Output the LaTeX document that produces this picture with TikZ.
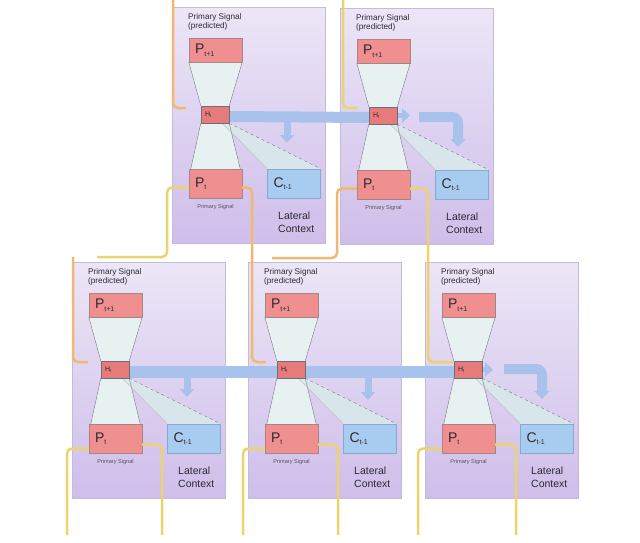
\documentclass[tikz,border=0pt]{standalone}
\usepackage{fontspec}
\setmainfont{Liberation Sans}
\usetikzlibrary{arrows.meta}
\pgfdeclarelayer{bg}
\pgfdeclarelayer{mid}
\pgfsetlayers{bg,mid,main}
\definecolor{panA}{HTML}{ECE6F7}
\definecolor{panB}{HTML}{CFBEEA}
\definecolor{panedge}{HTML}{C4BCD6}
\definecolor{pred}{HTML}{EF8F8F}
\definecolor{predline}{HTML}{A98484}
\definecolor{hred}{HTML}{E77B7B}
\definecolor{cblue}{HTML}{A8CCEF}
\definecolor{cline}{HTML}{86A9CC}
\definecolor{bandc}{HTML}{A8C2EC}
\definecolor{orA}{HTML}{F2B872}
\definecolor{yeA}{HTML}{ECD36E}
\definecolor{glass}{HTML}{E8F1F2}
\definecolor{beamc}{HTML}{D8EBEC}
\definecolor{txt}{HTML}{2B2B33}
\definecolor{edgec}{HTML}{6E6E78}

\newcommand\mysub[1]{\raisebox{-2.5pt}{\fontsize{7}{8}\selectfont #1}}
\newcommand\mytinysub[1]{\raisebox{-1.5pt}{\fontsize{4.5}{5}\selectfont #1}}

\tikzset{
 panelbox/.style={draw=panedge, line width=0.5pt, top color=panA, bottom color=panB,
   minimum width=153pt, minimum height=236pt, inner sep=0pt},
 pboxst/.style={fill=pred, draw=predline, line width=0.4pt, minimum width=53pt, inner sep=0pt},
 hboxst/.style={fill=hred, draw=edgec, line width=0.4pt, minimum width=28pt, minimum height=17pt, inner sep=0pt},
 cboxst/.style={fill=cblue, draw=cline, line width=0.4pt, minimum width=53pt, minimum height=29pt, inner sep=0pt},
 glassedge/.style={draw=edgec, line width=0.35pt},
 toptext/.style={anchor=north west, align=left, inner sep=0pt, text=txt, font=\fontsize{8.2}{9.2}\selectfont},
 plabel/.style={anchor=west, inner sep=0pt, text=txt, font=\fontsize{14}{16}\selectfont},
 hlabel/.style={anchor=west, inner sep=0pt, text=txt, font=\fontsize{7}{8}\selectfont},
 smalltext/.style={inner sep=0pt, text=txt!80, font=\fontsize{5.6}{6}\selectfont},
 lattext/.style={anchor=west, align=left, inner sep=0pt, text=txt, font=\fontsize{10.5}{12.5}\selectfont},
 band/.style={draw=bandc, line width=11pt},
 stub/.style={draw=bandc, line width=7pt, -{Triangle[width=14pt,length=8pt]}},
 bent/.style={draw=bandc, line width=10pt, rounded corners=6pt, -{Triangle[width=15pt,length=8pt]}},
 orline/.style={draw=orA, line width=2.5pt, rounded corners=5pt},
 yeline/.style={draw=yeA, line width=2.5pt, rounded corners=5pt},
}

\newcommand\mypanel[3]{%
\begin{scope}[shift={(#2,#3)}]
 \begin{pgfonlayer}{bg}
  \node[panelbox] (#1) at (76.5,118) {};
 \end{pgfonlayer}
 \node[pboxst, minimum height=24pt] (#1P1) at (43.5,43) {};
 \node[hboxst] (#1H) at (43,107.5) {};
 \node[pboxst, minimum height=29pt] (#1P0) at (43.5,176.5) {};
 \node[cboxst] (#1C) at (122,176.5) {};
 \begin{pgfonlayer}{bg}
  \fill[glass] (#1P1.south west) -- (#1P1.south east) -- (#1H.north east) -- (#1H.north west) -- cycle;
  \fill[glass] (#1H.south west) -- (#1H.south east) -- ([xshift=-2pt]#1P0.north east) -- ([xshift=2pt]#1P0.north west) -- cycle;
  \fill[beamc, opacity=.85] (#1H.south east) -- (#1C.north east) -- (#1C.north west) -- ([xshift=-7pt]#1H.south east) -- cycle;
  \draw[glassedge] (#1P1.south west) -- (#1H.north west)
                   (#1P1.south east) -- (#1H.north east)
                   (#1H.south west) -- ([xshift=2pt]#1P0.north west)
                   (#1H.south east) -- ([xshift=-2pt]#1P0.north east);
  \draw[glassedge, dashed] (#1H.south east) -- (#1C.north east);
  \draw[glassedge, draw=edgec!50] ([xshift=-7pt]#1H.south east) -- (#1C.north west);
 \end{pgfonlayer}
 \node[toptext] (#1tt) at (16,6) {Primary Signal\\(predicted)};
 \node[plabel] (#1P1t) at ([xshift=6pt]#1P1.west) {P\mysub{t+1}};
 \node[hlabel] (#1Ht) at ([xshift=4pt]#1H.west) {H\mytinysub{t}};
 \node[plabel] (#1P0t) at ([xshift=6pt]#1P0.west) {P\mysub{t}};
 \node[plabel] (#1Ct) at ([xshift=6pt]#1C.west) {C\mysub{t-1}};
 \node[smalltext] (#1ps) at (43.5,200) {Primary Signal};
 \node[lattext] (#1lc) at (106,215) {Lateral\\Context};
\end{scope}}

\begin{document}
\begin{tikzpicture}[x=1pt,y=-1pt]
\begin{pgfonlayer}{bg}
 \fill[white] (0,0) rectangle (640,542);
\end{pgfonlayer}
\path[use as bounding box] (0,0) rectangle (640,542);

\mypanel{TL}{172}{7}
\mypanel{TR}{340}{8}
\mypanel{BL}{72}{262}
\mypanel{BM}{248}{262}
\mypanel{BR}{425}{262}

% blue bands
\coordinate (s1a) at (287,117);
\coordinate (s1b) at (287,143);
\coordinate (t2a) at (410,115.5);
\coordinate (t2b) at (419,117);
\coordinate (t2c) at (458,117);
\coordinate (t2d) at (458,147);
\coordinate (s2a) at (187,372);
\coordinate (s2b) at (187,397);
\coordinate (s3a) at (368,372);
\coordinate (s3b) at (368,400);
\coordinate (t3a) at (493,369.5);
\coordinate (t3b) at (504,369);
\coordinate (t3c) at (542,369);
\coordinate (t3d) at (542,399);
\begin{pgfonlayer}{mid}
 \draw[band] ([yshift=-2pt]TLH.east) -- ([yshift=-2pt]TRH.west);
 \draw[stub] (s1a) -- (s1b);
 \draw[stub, line width=5pt] (TRH.east) -- (t2a);
 \draw[bent] (t2b) -- (t2c) -- (t2d);
 \draw[band, line width=12pt] ([yshift=-2pt]BLH.east) -- ([yshift=-2pt]BRH.west);
 \draw[stub] (s2a) -- (s2b);
 \draw[stub] (s3a) -- (s3b);
 \draw[stub, line width=5pt] (BRH.east) -- (t3a);
 \draw[bent] (t3b) -- (t3c) -- (t3d);
\end{pgfonlayer}

% orange / yellow connectors
\coordinate (o1s) at (173,0);
\coordinate (o1e) at (186,108);
\coordinate (o2s) at (343,0);
\coordinate (o2e) at (357,108);
\coordinate (o3c) at (167,257);
\coordinate (o3e) at (97,257);
\coordinate (o4s) at (73,257);
\coordinate (o4e) at (88,362);
\coordinate (o5c) at (252,362);
\coordinate (o5e) at (266,362);
\coordinate (o6c) at (337,258);
\coordinate (o6e) at (272,258);
\coordinate (o7c) at (428,362);
\coordinate (o7e) at (453,362);
\draw[orline] (o1s) |- (o1e);
\draw[yeline] (o2s) |- (o2e);
\draw[yeline] ([yshift=-4pt]TLP0.west) -| (o3c) -- (o3e);
\draw[orline] (o4s) |- (o4e);
\draw[orline] ([yshift=-4pt]TLP0.east) -| (o5c) -- (o5e);
\draw[orline] ([yshift=-4pt]TRP0.west) -| (o6c) -- (o6e);
\draw[yeline] ([yshift=-4pt]TRP0.east) -| (o7c) -- (o7e);

\coordinate (bl1) at (67,535);
\coordinate (bl2) at (162,535);
\coordinate (bm1) at (243,535);
\coordinate (bm2) at (338,535);
\coordinate (br1) at (418,535);
\coordinate (br2) at (516,535);
\draw[yeline] ([yshift=-10pt]BLP0.west) -| (bl1);
\draw[yeline] ([yshift=-6pt]BLP0.east) -| (bl2);
\draw[yeline] ([yshift=-10pt]BMP0.west) -| (bm1);
\draw[yeline] ([yshift=-6pt]BMP0.east) -| (bm2);
\draw[yeline] ([yshift=-10pt]BRP0.west) -| (br1);
\draw[yeline] ([yshift=-6pt]BRP0.east) -| (br2);
\end{tikzpicture}
\end{document}
